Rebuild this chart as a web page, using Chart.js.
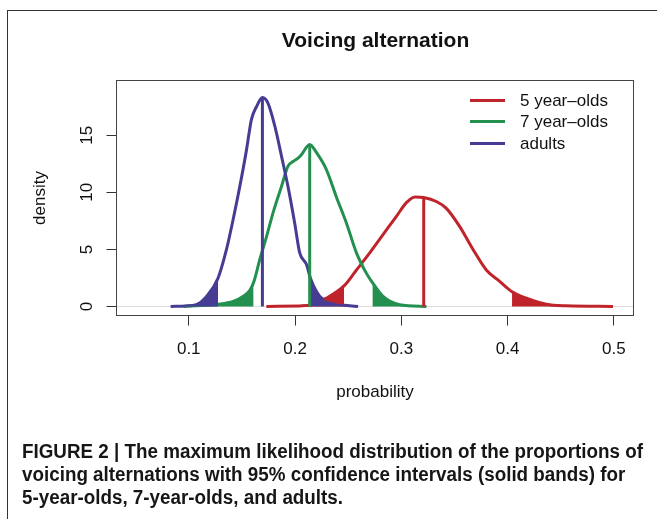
<!DOCTYPE html>
<html>
<head>
<meta charset="utf-8">
<title>Voicing alternation</title>
<script src="https://cdn.jsdelivr.net/npm/chart.js@4.4.0/dist/chart.umd.min.js"></script>
<style>
  html, body { margin: 0; padding: 0; background: #fff; }
  #page { position: relative; width: 657px; height: 519px; overflow: hidden; font-family: "Liberation Sans", Arial, Helvetica, sans-serif; color: #111; }
  #frame { position: absolute; left: 7px; top: 10px; width: 800px; height: 700px; border-left: 1px solid #333; border-top: 1px solid #333; }
  #chart-wrap { position: absolute; left: 0; top: 0; width: 657px; height: 519px; }
  #title { position: absolute; left: 117px; width: 517px; top: 27px; line-height: 26px; text-align: center; font-weight: bold; font-size: 21px; }
  #legend { position: absolute; left: 470px; top: 90px; }
  .leg-row { position: relative; height: 21.3px; width: 160px; }
  .leg-line { position: absolute; left: 0; top: 9.2px; width: 35px; height: 3px; }
  .leg-text { position: absolute; left: 50px; top: 0; line-height: 21.3px; font-size: 17px; white-space: nowrap; }
  #caption { position: absolute; left: 22px; top: 440px; }
  .cap-line { font-family: "Liberation Sans", Arial, sans-serif; font-weight: bold; font-size: 20px; line-height: 23px; white-space: nowrap; transform-origin: 0 0; color: #161616; }
</style>
</head>
<body>
<div id="page">
  <div id="frame"></div>
  <div id="chart-wrap"><canvas id="chart"></canvas></div>
  <div id="title">Voicing alternation</div>
  <div id="legend"></div>
  <div id="caption"></div>
</div>
<script>
// series names and colours
const groupNames = ['5 year\u2013olds', '7 year\u2013olds', 'adults'];
const groupColors = ['#c0242b', '#23904f', '#473c93'];

// density curves
const fiveX = [0.1731, 0.2044, 0.2138, 0.2295, 0.2461, 0.2578, 0.2703, 0.2797, 0.2954, 0.3048, 0.313, 0.3211, 0.333, 0.3424, 0.355, 0.3675, 0.38, 0.3926, 0.4042, 0.4177, 0.4365, 0.4553, 0.4992];
const fiveY = [0, 0.05, 0.1, 0.73, 1.8, 3.2, 4.7, 5.9, 7.9, 9.1, 9.6, 9.55, 9.2, 8.6, 7.0, 5.0, 3.2, 2.2, 1.3, 0.73, 0.2, 0.06, 0];

const sevenX = [0.095, 0.1276, 0.1417, 0.151, 0.1573, 0.161, 0.1668, 0.1731, 0.1793, 0.1872, 0.1934, 0.1981, 0.2028, 0.206, 0.2138, 0.2201, 0.2295, 0.2389, 0.2484, 0.2578, 0.2672, 0.2728, 0.2828, 0.2985, 0.3236];
const sevenY = [0, 0.2, 0.44, 0.88, 1.4, 2.1, 4.1, 6.1, 8.2, 10.5, 12.3, 12.7, 13.0, 13.3, 14.2, 13.5, 12.0, 9.6, 7.3, 4.7, 2.9, 2.1, 0.88, 0.15, 0];

const adultsX = [0.083, 0.097, 0.107, 0.1167, 0.1276, 0.1355, 0.1417, 0.148, 0.1543, 0.159, 0.1637, 0.1693, 0.1746, 0.181, 0.1872, 0.1934, 0.1997, 0.2044, 0.2107, 0.2148, 0.2232, 0.2358, 0.2593];
const adultsY = [0, 0.05, 0.15, 0.88, 2.5, 5.0, 7.6, 10.5, 13.7, 16.4, 17.5, 18.3, 17.8, 15.8, 13.2, 10.5, 7.3, 4.7, 3.7, 2.4, 0.9, 0.3, 0];

// 95% interval bounds and maximum likelihood estimates
const ciLower = [0.2461, 0.161, 0.1276];
const ciUpper = [0.4042, 0.2728, 0.2148];
const modeX = [0.3211, 0.2138, 0.1693];
const modeY = [9.55, 14.2, 18.3];

// axes
const xTicks = [0.1, 0.2, 0.3, 0.4, 0.5];
const yTicks = [0, 5, 10, 15];

const captionLines = [
  'FIGURE 2 | The maximum likelihood distribution of the proportions of',
  'voicing alternations with 95% confidence intervals (solid bands) for',
  '5-year-olds, 7-year-olds, and adults.'
];

const FONT = '"Liberation Sans", Arial, Helvetica, sans-serif';

// legend
const legend = document.getElementById('legend');
groupNames.forEach((name, g) => {
  const row = document.createElement('div');
  row.className = 'leg-row';
  row.innerHTML = '<div class="leg-line" style="background:' + groupColors[g] + '"></div><div class="leg-text">' + name + '</div>';
  legend.appendChild(row);
});

// caption, squeezed to the width of the original first line
const caption = document.getElementById('caption');
const capEls = captionLines.map(t => {
  const d = document.createElement('div');
  d.className = 'cap-line';
  d.textContent = t;
  caption.appendChild(d);
  return d;
});
const w0 = capEls[0].scrollWidth;
const sx = 621 / w0;
capEls.forEach(d => { d.style.transform = 'scaleX(' + sx + ')'; });

const curvesX = [fiveX, sevenX, adultsX];
const curvesY = [fiveY, sevenY, adultsY];
const datasets = [];
curvesX.forEach((xs, g) => {
  const pts = xs.map((x, i) => ({ x: x, y: curvesY[g][i] }));
  const col = groupColors[g];
  datasets.push({
    label: groupNames[g], data: pts, borderColor: col, borderWidth: 3,
    pointRadius: 0, cubicInterpolationMode: 'monotone', fill: false, order: 30 - g
  });
  datasets.push({
    data: pts.filter(p => p.x <= ciLower[g]), borderColor: col, backgroundColor: col,
    borderWidth: 1, pointRadius: 0, cubicInterpolationMode: 'monotone', fill: 'origin', order: 20 - g
  });
  datasets.push({
    data: pts.filter(p => p.x >= ciUpper[g]), borderColor: col, backgroundColor: col,
    borderWidth: 1, pointRadius: 0, cubicInterpolationMode: 'monotone', fill: 'origin', order: 20 - g
  });
  datasets.push({
    data: [{ x: modeX[g], y: 0 }, { x: modeX[g], y: modeY[g] }], borderColor: col,
    borderWidth: 3, pointRadius: 0, fill: false, order: 10 - g
  });
});

// R style box round the plot region
const boxPlugin = {
  id: 'plotBox',
  afterDraw(chart) {
    const a = chart.chartArea;
    const ctx = chart.ctx;
    ctx.save();
    ctx.strokeStyle = '#444';
    ctx.lineWidth = 1;
    ctx.strokeRect(a.left, a.top, a.right - a.left, a.bottom - a.top);
    ctx.restore();
  }
};

new Chart(document.getElementById('chart').getContext('2d'), {
  type: 'line',
  data: { datasets: datasets },
  options: {
    responsive: true,
    maintainAspectRatio: false,
    animation: false,
    layout: { padding: { left: 0, top: 80.5, right: 23.5, bottom: 113.5 } },
    plugins: { legend: { display: false }, tooltip: { enabled: false } },
    scales: {
      x: {
        type: 'linear', min: 0.032, max: 0.5185,
        afterBuildTicks: s => { s.ticks = xTicks.map(v => ({ value: v })); },
        afterFit: s => { s.height = 90; },
        border: { display: false },
        grid: { drawOnChartArea: false, drawTicks: true, tickLength: 10, tickColor: '#333' },
        ticks: { padding: 14, color: '#111', autoSkip: false, maxRotation: 0,
          font: { size: 17, family: FONT }, callback: v => String(v) },
        title: { display: true, text: 'probability', color: '#111',
          font: { size: 17, family: FONT }, padding: { top: 0, bottom: 3 } }
      },
      y: {
        type: 'linear', min: -0.79, max: 19.8,
        afterBuildTicks: s => { s.ticks = yTicks.map(v => ({ value: v })); },
        afterFit: s => { s.width = 116.5; },
        border: { display: false },
        grid: {
          drawOnChartArea: true, drawTicks: true, tickLength: 10, tickColor: '#333',
          color: c => (c.tick && c.tick.value === 0 ? '#dddddd' : 'rgba(0,0,0,0)')
        },
        ticks: { padding: 10, color: '#111', crossAlign: 'center', minRotation: 90, maxRotation: 90,
          font: { size: 17, family: FONT }, callback: v => String(v) },
        title: { display: true, text: 'density', color: '#111',
          font: { size: 17, family: FONT }, padding: { top: 30, bottom: 0 } }
      }
    }
  },
  plugins: [boxPlugin]
});
</script>
</body>
</html>
